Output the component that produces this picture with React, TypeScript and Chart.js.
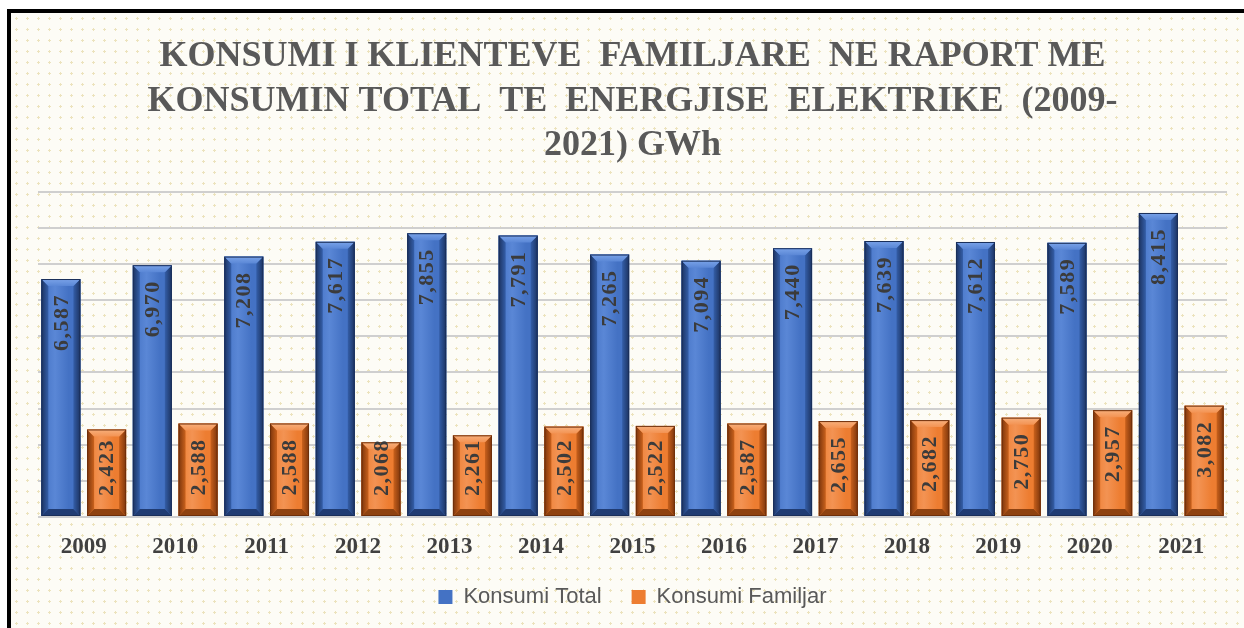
import React, { useEffect, useRef } from "react";
import { Chart, registerables } from "chart.js";

Chart.register(...registerables);

const years = ["2009", "2010", "2011", "2012", "2013", "2014", "2015", "2016", "2017", "2018", "2019", "2020", "2021"];
const totalValues = [6587, 6970, 7208, 7617, 7855, 7791, 7265, 7094, 7440, 7639, 7612, 7589, 8415];
const familyValues = [2423, 2588, 2588, 2068, 2261, 2502, 2522, 2587, 2655, 2682, 2750, 2957, 3082];
const seriesNames = ["Konsumi Total", "Konsumi Familjar"];
const titleLines = [
  "KONSUMI I KLIENTEVE  FAMILJARE  NE RAPORT ME",
  "KONSUMIN TOTAL  TE  ENERGJISE  ELEKTRIKE  (2009-",
  "2021) GWh",
];
const yMin = 0;
const yMax = 9000;
const yStep = 1000;

type Pal = { main: string; light: string; top: string; left: string; right: string; bottom: string; edge: string };
const palettes: Pal[] = [
  { main: "#4472c4", light: "#5a87d6", top: "#7aa3e8", left: "#345ea8", right: "#1c3361", bottom: "#203c73", edge: "#1a2f5a" },
  { main: "#ed7d31", light: "#f39353", top: "#f8b07c", left: "#c9611c", right: "#7c350c", bottom: "#8f4210", edge: "#6e2f0a" },
];

const fmt = (v: number) => v.toLocaleString("en-US");

const bevelPlugin = {
  id: "bevelBars",
  afterDatasetsDraw(chart: any) {
    const ctx: CanvasRenderingContext2D = chart.ctx;
    ctx.save();
    chart.data.datasets.forEach((ds: any, di: number) => {
      const meta = chart.getDatasetMeta(di);
      const pal = palettes[di];
      meta.data.forEach((el: any, i: number) => {
        const { x, y, base, width } = el.getProps(["x", "y", "base", "width"], true);
        const l = x - width / 2;
        const r = x + width / 2;
        const t = Math.min(y, base);
        const b = Math.max(y, base);
        const bv = Math.min(7, width * 0.18);
        const g = ctx.createLinearGradient(l, 0, r, 0);
        g.addColorStop(0, pal.main);
        g.addColorStop(0.35, pal.light);
        g.addColorStop(0.7, pal.main);
        g.addColorStop(1, pal.main);
        ctx.fillStyle = g;
        ctx.fillRect(l, t, r - l, b - t);
        const gl = ctx.createLinearGradient(l, 0, l + bv, 0);
        gl.addColorStop(0, pal.right);
        gl.addColorStop(1, pal.left);
        ctx.fillStyle = gl;
        ctx.beginPath();
        ctx.moveTo(l, t);
        ctx.lineTo(l + bv, t + bv);
        ctx.lineTo(l + bv, b - bv);
        ctx.lineTo(l, b);
        ctx.closePath();
        ctx.fill();
        const gr = ctx.createLinearGradient(r - bv, 0, r, 0);
        gr.addColorStop(0, pal.left);
        gr.addColorStop(1, pal.right);
        ctx.fillStyle = gr;
        ctx.beginPath();
        ctx.moveTo(r, t);
        ctx.lineTo(r - bv, t + bv);
        ctx.lineTo(r - bv, b - bv);
        ctx.lineTo(r, b);
        ctx.closePath();
        ctx.fill();
        const gt = ctx.createLinearGradient(0, t, 0, t + bv);
        gt.addColorStop(0, pal.top);
        gt.addColorStop(1, pal.light);
        ctx.fillStyle = gt;
        ctx.beginPath();
        ctx.moveTo(l, t);
        ctx.lineTo(r, t);
        ctx.lineTo(r - bv, t + bv);
        ctx.lineTo(l + bv, t + bv);
        ctx.closePath();
        ctx.fill();
        ctx.fillStyle = pal.bottom;
        ctx.beginPath();
        ctx.moveTo(l, b);
        ctx.lineTo(r, b);
        ctx.lineTo(r - bv, b - bv);
        ctx.lineTo(l + bv, b - bv);
        ctx.closePath();
        ctx.fill();
        ctx.strokeStyle = pal.edge;
        ctx.lineWidth = 1;
        ctx.strokeRect(l + 0.5, t + 0.5, r - l - 1, b - t - 1);

        const v = ds.data[i] as number;
        ctx.save();
        ctx.font = "bold 22px 'Liberation Serif', 'Times New Roman', serif";
        (ctx as any).letterSpacing = "1.5px";
        const tw = ctx.measureText(fmt(v)).width;
        const start = Math.min(t + 15, b - 20 - tw);
        ctx.translate(x + 1, start);
        ctx.rotate(-Math.PI / 2);
        ctx.fillStyle = "#3b3b3b";
        ctx.textAlign = "right";
        ctx.textBaseline = "middle";
        ctx.fillText(fmt(v), 0, 0);
        ctx.restore();
      });
    });
    ctx.restore();
  },
};

export default function App() {
  const canvasRef = useRef<HTMLCanvasElement | null>(null);

  useEffect(() => {
    if (!canvasRef.current) return;
    const chart = new Chart(canvasRef.current, {
      type: "bar",
      data: {
        labels: years,
        datasets: [
          {
            label: seriesNames[0],
            data: totalValues,
            backgroundColor: palettes[0].main,
            borderColor: palettes[0].edge,
            borderWidth: 0,
            barPercentage: 0.853,
            categoryPercentage: 1,
          },
          {
            label: seriesNames[1],
            data: familyValues,
            backgroundColor: palettes[1].main,
            borderColor: palettes[1].edge,
            borderWidth: 0,
            barPercentage: 0.853,
            categoryPercentage: 1,
          },
        ],
      },
      options: {
        animation: false,
        responsive: true,
        maintainAspectRatio: false,
        layout: { padding: { left: 38, right: 17, top: 0, bottom: 10 } },
        plugins: {
          title: {
            display: true,
            text: titleLines,
            color: "#595959",
            font: { family: "'Liberation Serif', 'Times New Roman', serif", size: 36, weight: "bold", lineHeight: 1.23 },
            padding: { top: 35, bottom: 24 },
          },
          legend: {
            position: "bottom",
            maxHeight: 64,
            labels: {
              color: "#595959",
              font: { family: "'Liberation Sans', Arial, sans-serif", size: 22 },
              boxWidth: 14,
              boxHeight: 14,
              padding: 30,
            },
          },
          tooltip: { enabled: false },
        },
        scales: {
          x: {
            grid: { display: false, drawTicks: false },
            border: { display: false },
            ticks: {
              color: "#404040",
              font: { family: "'Liberation Serif', 'Times New Roman', serif", size: 23, weight: "bold" },
              padding: 16,
            },
            afterFit: (s: any) => {
              s.height = 39;
            },
          },
          y: {
            min: yMin,
            max: yMax,
            ticks: { display: false, stepSize: yStep },
            grid: { color: "#cfcfcf", lineWidth: 2, drawTicks: false },
            border: { display: false },
          },
        },
      },
      plugins: [bevelPlugin],
    });
    return () => chart.destroy();
  }, []);

  return (
    <div style={{ position: "fixed", left: 0, top: 0, width: 1244, height: 628, background: "#ffffff", overflow: "hidden" }}>
      <div
        style={{
          position: "absolute",
          left: 7,
          top: 9,
          width: 1260,
          height: 640,
          borderLeft: "4px solid #000",
          borderTop: "4px solid #000",
          backgroundColor: "#fdfcf6",
          backgroundImage: "radial-gradient(circle, #ece3bd 1px, transparent 1.4px)",
          backgroundSize: "11px 11px",
        }}
      />
      <div style={{ position: "absolute", left: 0, top: 0, width: 1244, height: 628 }}>
        <canvas ref={canvasRef} />
      </div>
    </div>
  );
}
